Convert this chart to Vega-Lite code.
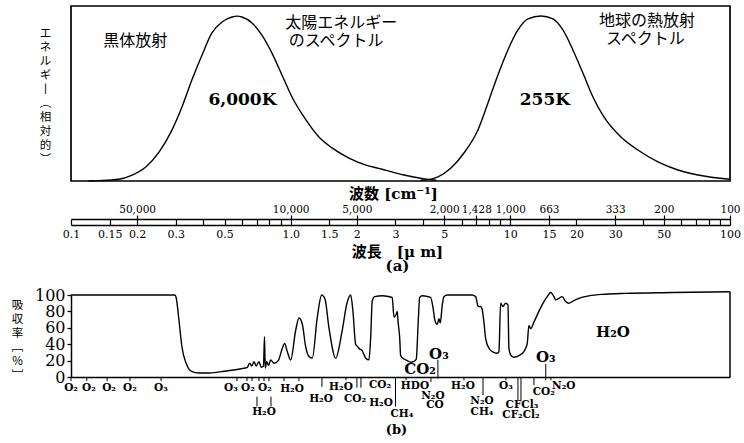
{
  "$schema": "https://vega.github.io/schema/vega-lite/v6.json",
  "background": "white",
  "padding": {"left": 11, "top": 5, "right": 4, "bottom": 5},
  "bounds": "flush",
  "spacing": 70,
  "config": {
    "view": {"stroke": null},
    "axis": {"grid": false, "labelFont": "DejaVu Serif", "labelColor": "black", "domainColor": "black", "tickColor": "black", "titleColor": "black", "titleFontWeight": "normal", "labelOverlap": false, "labelFlush": false},
    "text": {"color": "black"}
  },
  "vconcat": [
    {
      "width": 659,
      "height": 219,
      "resolve": {"axis": {"x": "independent", "y": "independent"}},
      "layer": [
        {
          "data": {"values": [{}]},
          "mark": {"type": "rect", "filled": false, "color": "black", "strokeWidth": 1.7},
          "encoding": {
            "x": {"datum": 0.1, "type": "quantitative", "scale": {"type": "log", "domain": [0.1, 100], "nice": false}, "axis": null},
            "x2": {"datum": 100},
            "y": {"datum": 0, "type": "quantitative", "scale": {"domain": [-25.14, 100], "nice": false, "zero": false}, "axis": null},
            "y2": {"datum": 100}
          }
        },
        {
          "data": {"values": [
            {"s": "sun", "lam": 0.12, "v": 0},
            {"s": "sun", "lam": 0.134, "v": 0.2},
            {"s": "sun", "lam": 0.165, "v": 1.0},
            {"s": "sun", "lam": 0.19, "v": 3.4},
            {"s": "sun", "lam": 0.219, "v": 8.0},
            {"s": "sun", "lam": 0.252, "v": 16.6},
            {"s": "sun", "lam": 0.288, "v": 29.1},
            {"s": "sun", "lam": 0.32, "v": 42.3},
            {"s": "sun", "lam": 0.355, "v": 57.7},
            {"s": "sun", "lam": 0.395, "v": 72},
            {"s": "sun", "lam": 0.438, "v": 84.6},
            {"s": "sun", "lam": 0.487, "v": 90.9},
            {"s": "sun", "lam": 0.541, "v": 93.7},
            {"s": "sun", "lam": 0.57, "v": 94.2},
            {"s": "sun", "lam": 0.6, "v": 93.7},
            {"s": "sun", "lam": 0.667, "v": 90.3},
            {"s": "sun", "lam": 0.74, "v": 83.4},
            {"s": "sun", "lam": 0.822, "v": 73.1},
            {"s": "sun", "lam": 0.913, "v": 60.6},
            {"s": "sun", "lam": 1.014, "v": 48},
            {"s": "sun", "lam": 1.174, "v": 34.9},
            {"s": "sun", "lam": 1.345, "v": 25.1},
            {"s": "sun", "lam": 1.542, "v": 18.9},
            {"s": "sun", "lam": 1.843, "v": 13.1},
            {"s": "sun", "lam": 2.202, "v": 9.1},
            {"s": "sun", "lam": 2.52, "v": 7.2},
            {"s": "sun", "lam": 2.773, "v": 5.8},
            {"s": "sun", "lam": 3.279, "v": 3.4},
            {"s": "sun", "lam": 4.129, "v": 1.1},
            {"s": "sun", "lam": 4.6, "v": 0.4},
            {"s": "earth", "lam": 3.9, "v": 0.4},
            {"s": "earth", "lam": 4.4, "v": 1.2},
            {"s": "earth", "lam": 4.683, "v": 2.3},
            {"s": "earth", "lam": 5.365, "v": 7.4},
            {"s": "earth", "lam": 6.15, "v": 16},
            {"s": "earth", "lam": 7.12, "v": 29.1},
            {"s": "earth", "lam": 7.91, "v": 44.6},
            {"s": "earth", "lam": 8.78, "v": 60.6},
            {"s": "earth", "lam": 9.75, "v": 74.9},
            {"s": "earth", "lam": 10.83, "v": 86.3},
            {"s": "earth", "lam": 12.03, "v": 92.6},
            {"s": "earth", "lam": 13.78, "v": 94.3},
            {"s": "earth", "lam": 15.63, "v": 92.6},
            {"s": "earth", "lam": 17.35, "v": 86.3},
            {"s": "earth", "lam": 19.27, "v": 74.9},
            {"s": "earth", "lam": 21.4, "v": 61.7},
            {"s": "earth", "lam": 23.77, "v": 48},
            {"s": "earth", "lam": 26.67, "v": 36.6},
            {"s": "earth", "lam": 31.87, "v": 25.1},
            {"s": "earth", "lam": 38.09, "v": 17.7},
            {"s": "earth", "lam": 46.97, "v": 10.9},
            {"s": "earth", "lam": 57.93, "v": 6.3},
            {"s": "earth", "lam": 71.45, "v": 3.4},
            {"s": "earth", "lam": 100, "v": 1.0}
          ]},
          "mark": {"type": "line", "color": "black", "strokeWidth": 1.4, "interpolate": "monotone"},
          "encoding": {
            "x": {"field": "lam", "type": "quantitative", "axis": {
              "orient": "bottom",
              "values": [0.1, 0.15, 0.2, 0.3, 0.4, 0.5, 0.6, 0.7, 0.8, 0.9, 1, 1.5, 2, 3, 4, 5, 6, 7, 8, 9, 10, 15, 20, 30, 40, 50, 60, 70, 80, 90, 100],
              "tickSize": -6, "tickWidth": 1.2, "domainWidth": 1.5,
              "labelExpr": "indexof([0.4,0.6,0.7,0.8,0.9,4,6,7,8,9,40,60,70,80,90], datum.value) >= 0 ? '' : (datum.value == 1 ? '1.0' : '' + datum.value)",
              "labelFontSize": 11, "labelPadding": 9,
              "title": ["波長　[μ m]", "(a)"],
              "titleFont": "DejaVu Serif, Noto Sans CJK JP", "titleFontSize": 15, "titleFontWeight": "bold",
              "titleBaseline": "middle", "titleAlign": "center", "titleX": 326, "titleY": 26, "titleLineHeight": 14
            }},
            "y": {"field": "v", "type": "quantitative", "axis": {
              "labels": false, "ticks": false, "domain": false,
              "title": ["エ", "ネ", "ル", "ギ", "丨", "︵", "相", "対", "的", "︶"],
              "titleX": -26, "titleY": 27, "titleAngle": 0, "titleAlign": "center", "titleBaseline": "middle",
              "titleFont": "Noto Sans CJK JP", "titleFontSize": 11.5, "titleLineHeight": 14
            }},
            "detail": {"field": "s"}
          }
        },
        {
          "data": {"values": [
            {"lam": 0.196, "v": 80, "t": "黒体放射"},
            {"lam": 1.7, "v": 90.5, "t": "太陽エネルギー"},
            {"lam": 1.61, "v": 80.2, "t": "のスペクトル"},
            {"lam": 41.9, "v": 91.3, "t": "地球の熱放射"},
            {"lam": 41.2, "v": 81.0, "t": "スペクトル"}
          ]},
          "mark": {"type": "text", "font": "Noto Sans CJK JP", "fontSize": 16, "baseline": "middle", "align": "center"},
          "encoding": {
            "x": {"field": "lam", "type": "quantitative", "axis": {
              "orient": "top", "offset": -213,
              "values": [0.2, 1, 2, 5, 7, 10, 15, 30, 50, 100],
              "tickSize": 4, "tickWidth": 1.2, "domainWidth": 1.5,
              "labelExpr": "datum.value == 0.2 ? '50,000' : datum.value == 1 ? '10,000' : datum.value == 2 ? '5,000' : datum.value == 5 ? '2,000' : datum.value == 7 ? '1,428' : datum.value == 10 ? '1,000' : datum.value == 15 ? '663' : datum.value == 30 ? '333' : datum.value == 50 ? '200' : '100'",
              "labelFontSize": 10.5, "labelPadding": 1,
              "title": "波数 [cm⁻¹]",
              "titleFont": "DejaVu Serif, Noto Sans CJK JP", "titleFontSize": 15, "titleFontWeight": "bold",
              "titleBaseline": "middle", "titleAlign": "center", "titleX": 322, "titleY": -26
            }},
            "y": {"field": "v", "type": "quantitative", "axis": null},
            "text": {"field": "t"}
          }
        },
        {
          "data": {"values": [
            {"lam": 0.603, "v": 46.3, "t": "6,000K"},
            {"lam": 14.37, "v": 46.3, "t": "255K"}
          ]},
          "mark": {"type": "text", "font": "DejaVu Serif", "fontSize": 17, "fontWeight": "bold", "baseline": "middle", "align": "center"},
          "encoding": {
            "x": {"field": "lam", "type": "quantitative", "axis": null},
            "y": {"field": "v", "type": "quantitative", "axis": null},
            "text": {"field": "t"}
          }
        }
      ]
    },
    {
      "width": 659,
      "height": 82,
      "resolve": {"axis": {"x": "independent", "y": "independent"}},
      "layer": [
        {
          "data": {"values": [
            {"lam": 0.1, "v": 100}, {"lam": 0.297, "v": 100}, {"lam": 0.301, "v": 97},
            {"lam": 0.31, "v": 69.5}, {"lam": 0.32, "v": 36.6}, {"lam": 0.334, "v": 17},
            {"lam": 0.352, "v": 7.3}, {"lam": 0.383, "v": 4.9}, {"lam": 0.425, "v": 4.9},
            {"lam": 0.508, "v": 7.3}, {"lam": 0.594, "v": 10.1}, {"lam": 0.635, "v": 11.8},
            {"lam": 0.651, "v": 16.7}, {"lam": 0.665, "v": 13.4}, {"lam": 0.681, "v": 18.7},
            {"lam": 0.697, "v": 13.4}, {"lam": 0.717, "v": 18.7}, {"lam": 0.735, "v": 11.8},
            {"lam": 0.752, "v": 13}, {"lam": 0.76, "v": 49}, {"lam": 0.766, "v": 11},
            {"lam": 0.778, "v": 18.7}, {"lam": 0.793, "v": 14}, {"lam": 0.811, "v": 20.7},
            {"lam": 0.84, "v": 16.7}, {"lam": 0.878, "v": 20}, {"lam": 0.916, "v": 35},
            {"lam": 0.939, "v": 41}, {"lam": 0.965, "v": 31}, {"lam": 1.0, "v": 20.7},
            {"lam": 1.054, "v": 57}, {"lam": 1.091, "v": 72}, {"lam": 1.129, "v": 65},
            {"lam": 1.17, "v": 37}, {"lam": 1.212, "v": 25}, {"lam": 1.254, "v": 23},
            {"lam": 1.322, "v": 73}, {"lam": 1.384, "v": 100}, {"lam": 1.433, "v": 95},
            {"lam": 1.494, "v": 60}, {"lam": 1.603, "v": 23}, {"lam": 1.712, "v": 55},
            {"lam": 1.804, "v": 90}, {"lam": 1.876, "v": 100}, {"lam": 1.921, "v": 80},
            {"lam": 1.976, "v": 40}, {"lam": 2.018, "v": 37}, {"lam": 2.061, "v": 34},
            {"lam": 2.105, "v": 33}, {"lam": 2.195, "v": 23}, {"lam": 2.272, "v": 21},
            {"lam": 2.313, "v": 48}, {"lam": 2.352, "v": 93}, {"lam": 2.412, "v": 98},
            {"lam": 2.612, "v": 99}, {"lam": 2.9, "v": 97}, {"lam": 2.953, "v": 73},
            {"lam": 3.006, "v": 75}, {"lam": 3.057, "v": 80}, {"lam": 3.079, "v": 69},
            {"lam": 3.135, "v": 48}, {"lam": 3.168, "v": 26}, {"lam": 3.279, "v": 22},
            {"lam": 3.394, "v": 20}, {"lam": 3.518, "v": 18}, {"lam": 3.642, "v": 19},
            {"lam": 3.731, "v": 22}, {"lam": 3.81, "v": 69}, {"lam": 3.866, "v": 97},
            {"lam": 3.972, "v": 99}, {"lam": 4.337, "v": 97}, {"lam": 4.443, "v": 85},
            {"lam": 4.537, "v": 69}, {"lam": 4.648, "v": 64}, {"lam": 4.732, "v": 71},
            {"lam": 4.8, "v": 66}, {"lam": 4.9, "v": 88}, {"lam": 4.986, "v": 98},
            {"lam": 5.161, "v": 100}, {"lam": 6.687, "v": 100}, {"lam": 6.95, "v": 98},
            {"lam": 7.143, "v": 86}, {"lam": 7.325, "v": 86}, {"lam": 7.449, "v": 82},
            {"lam": 7.582, "v": 67}, {"lam": 7.719, "v": 47}, {"lam": 7.99, "v": 35},
            {"lam": 8.271, "v": 31}, {"lam": 8.717, "v": 29}, {"lam": 8.873, "v": 31},
            {"lam": 9.032, "v": 90}, {"lam": 9.253, "v": 86}, {"lam": 9.519, "v": 90},
            {"lam": 9.752, "v": 88}, {"lam": 9.854, "v": 35}, {"lam": 10.03, "v": 27},
            {"lam": 10.38, "v": 24}, {"lam": 10.94, "v": 26}, {"lam": 11.53, "v": 31},
            {"lam": 11.74, "v": 35}, {"lam": 11.94, "v": 41}, {"lam": 12.15, "v": 63},
            {"lam": 12.37, "v": 59}, {"lam": 12.81, "v": 67}, {"lam": 13.49, "v": 80},
            {"lam": 14.22, "v": 92}, {"lam": 14.72, "v": 98}, {"lam": 15.25, "v": 103},
            {"lam": 15.79, "v": 98}, {"lam": 16.08, "v": 94}, {"lam": 16.64, "v": 96},
            {"lam": 17.23, "v": 98}, {"lam": 17.85, "v": 92}, {"lam": 18.48, "v": 90},
            {"lam": 19.13, "v": 92}, {"lam": 20.52, "v": 96}, {"lam": 22.79, "v": 99},
            {"lam": 27.16, "v": 101}, {"lam": 33.48, "v": 102}, {"lam": 54.58, "v": 103},
            {"lam": 100, "v": 104}
          ]},
          "mark": {"type": "line", "color": "black", "strokeWidth": 1.4, "interpolate": "monotone"},
          "encoding": {
            "x": {"field": "lam", "type": "quantitative", "scale": {"type": "log", "domain": [0.1, 100], "nice": false}, "axis": {
              "orient": "bottom", "labels": false, "ticks": false, "domainWidth": 1.5,
              "title": "(b)", "titleY": 52, "titleX": 325, "titleAlign": "center", "titleBaseline": "middle", "titleFont": "DejaVu Serif", "titleFontSize": 13, "titleFontWeight": "bold"
            }},
            "y": {"field": "v", "type": "quantitative", "scale": {"domain": [0, 100], "nice": false}, "axis": {
              "orient": "left",
              "values": [0, 20, 40, 60, 80, 100], "tickSize": 4, "tickWidth": 1.3, "domainWidth": 1.5,
              "labelFontSize": 16, "labelPadding": 2,
              "title": ["吸", "収", "率", "﹇", "％", "﹈"],
              "titleX": -54, "titleY": 10, "titleAngle": 0, "titleAlign": "center", "titleBaseline": "middle",
              "titleFont": "Noto Sans CJK JP", "titleFontSize": 11.5, "titleLineHeight": 14
            }}
          }
        },
        {
          "data": {"values": [{}]},
          "mark": {"type": "rule", "color": "black", "strokeWidth": 1.5},
          "encoding": {
            "x": {"datum": 100, "type": "quantitative", "axis": null},
            "y": {"datum": 0, "type": "quantitative", "axis": null},
            "y2": {"datum": 104}
          }
        },
        {
          "data": {"values": [
            {"lam": 0.1, "a": 0, "b": -5}, {"lam": 0.118, "a": 0, "b": -5}, {"lam": 0.146, "a": 0, "b": -5},
            {"lam": 0.1856, "a": 0, "b": -5}, {"lam": 0.257, "a": 0, "b": -5},
            {"lam": 0.5696, "a": 0, "b": -5}, {"lam": 0.6326, "a": 0, "b": -5}, {"lam": 0.6668, "a": 0, "b": -5},
            {"lam": 0.7173, "a": 0, "b": -5}, {"lam": 0.7561, "a": 0, "b": -5}, {"lam": 0.7966, "a": 0, "b": -5},
            {"lam": 0.7025, "a": -24, "b": -36}, {"lam": 0.8135, "a": -24, "b": -36},
            {"lam": 0.9322, "a": 0, "b": -5}, {"lam": 1.091, "a": 0, "b": -5},
            {"lam": 1.388, "a": 0, "b": -12}, {"lam": 1.785, "a": 0, "b": -4},
            {"lam": 2.003, "a": 0, "b": -13}, {"lam": 2.089, "a": 0, "b": -13},
            {"lam": 3.0, "a": 0, "b": -36}, {"lam": 3.35, "a": 0, "b": -4}, {"lam": 4.35, "a": 0, "b": -6},
            {"lam": 4.68, "a": 21, "b": -2}, {"lam": 6.15, "a": 0, "b": -4}, {"lam": 7.51, "a": 0, "b": -22},
            {"lam": 9.55, "a": 0, "b": -4}, {"lam": 10.83, "a": 0, "b": -28}, {"lam": 11.18, "a": 0, "b": -28},
            {"lam": 12.81, "a": 0, "b": -10}, {"lam": 14.5, "a": 16, "b": -4}, {"lam": 15.3, "a": 0, "b": -4}
          ]},
          "mark": {"type": "rule", "color": "black", "strokeWidth": 1},
          "encoding": {
            "x": {"field": "lam", "type": "quantitative", "axis": null},
            "y": {"field": "a", "type": "quantitative", "axis": null},
            "y2": {"field": "b"}
          }
        },
        {
          "data": {"values": [
            {"lam": 0.1, "y": -13.4, "t": "O₂"},
            {"lam": 0.1207, "y": -13.4, "t": "O₂"},
            {"lam": 0.149, "y": -13.4, "t": "O₂"},
            {"lam": 0.1856, "y": -13.4, "t": "O₂"},
            {"lam": 0.2568, "y": -13.4, "t": "O₃"},
            {"lam": 0.535, "y": -14, "t": "O₃"},
            {"lam": 0.639, "y": -14, "t": "O₂"},
            {"lam": 0.764, "y": -14, "t": "O₂"},
            {"lam": 0.756, "y": -42.7, "t": "H₂O"},
            {"lam": 1.014, "y": -14.6, "t": "H₂O"},
            {"lam": 1.694, "y": -12.2, "t": "H₂O"},
            {"lam": 1.374, "y": -26.8, "t": "H₂O"},
            {"lam": 1.962, "y": -26.8, "t": "CO₂"},
            {"lam": 2.55, "y": -10, "t": "CO₂"},
            {"lam": 2.577, "y": -31.7, "t": "H₂O"},
            {"lam": 3.21, "y": -45, "t": "CH₄"},
            {"lam": 3.68, "y": -11, "t": "HDO"},
            {"lam": 4.44, "y": -23, "t": "N₂O"},
            {"lam": 4.54, "y": -34, "t": "CO"},
            {"lam": 6.085, "y": -11, "t": "H₂O"},
            {"lam": 7.43, "y": -29, "t": "N₂O"},
            {"lam": 7.43, "y": -43, "t": "CH₄"},
            {"lam": 9.55, "y": -11, "t": "O₃"},
            {"lam": 11.29, "y": -34, "t": "CFCl₃"},
            {"lam": 11.18, "y": -46, "t": "CF₂Cl₂"},
            {"lam": 14.2, "y": -18, "t": "CO₂"},
            {"lam": 17.5, "y": -11, "t": "N₂O"}
          ]},
          "mark": {"type": "text", "font": "DejaVu Serif", "fontSize": 10.5, "fontWeight": "bold", "baseline": "middle", "align": "center"},
          "encoding": {
            "x": {"field": "lam", "type": "quantitative", "axis": null},
            "y": {"field": "y", "type": "quantitative", "axis": null},
            "text": {"field": "t"}
          }
        },
        {
          "data": {"values": [
            {"lam": 3.88, "y": 9.8, "t": "CO₂"},
            {"lam": 4.73, "y": 28, "t": "O₃"},
            {"lam": 14.5, "y": 24.4, "t": "O₃"},
            {"lam": 29.3, "y": 55, "t": "H₂O"}
          ]},
          "mark": {"type": "text", "font": "DejaVu Serif", "fontSize": 15, "fontWeight": "bold", "baseline": "middle", "align": "center"},
          "encoding": {
            "x": {"field": "lam", "type": "quantitative", "axis": null},
            "y": {"field": "y", "type": "quantitative", "axis": null},
            "text": {"field": "t"}
          }
        }
      ]
    }
  ]
}
